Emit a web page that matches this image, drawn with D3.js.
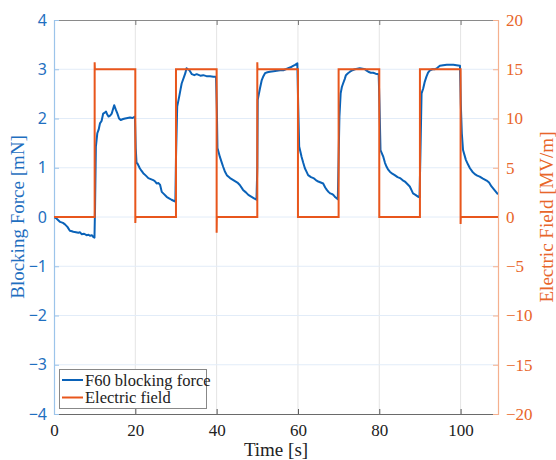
<!DOCTYPE html>
<html>
<head>
<meta charset="utf-8">
<script src="https://cdn.jsdelivr.net/npm/d3@7/dist/d3.min.js"></script>
<style>
  html, body { margin: 0; padding: 0; background: #fff; }
  svg { display: block; }
</style>
</head>
<body>
<svg id="chart" width="556" height="460"></svg>
<script>
// Time axis ticks and limits
const timeTicks = [0, 20, 40, 60, 80, 100];
const timeMax = 109.2;
// Left axis: blocking force [mN]
const forceTicks = [-4, -3, -2, -1, 0, 1, 2, 3, 4];
// Right axis: electric field [MV/m]
const fieldTicks = [-20, -15, -10, -5, 0, 5, 10, 15, 20];

// F60 blocking force samples
const forceTime = [
  0, 0.6, 1.5, 2.2, 2.7, 3.3, 3.9, 4.4, 4.75, 5.4, 6.0, 6.4, 6.8, 7.4, 8.0, 8.5, 8.85, 9.3, 9.7, 9.95,
  10.1, 10.3, 10.65, 11.0, 11.3, 11.7, 12.1, 12.5, 12.8, 13.1, 13.4, 13.8, 14.2, 14.8, 15.2, 15.6, 16.0, 16.4, 17.0, 17.5, 18.1, 18.7, 19.3, 19.9,
  20.1, 20.3, 20.5, 21.1, 21.5, 21.95, 22.6, 23.2, 23.8, 24.4, 24.9, 25.25, 25.7, 26.1, 26.5, 27.0, 27.7, 28.3, 28.9, 29.4, 29.85,
  30.0, 30.3, 30.8, 31.1, 31.4, 32.0, 32.3, 32.6, 32.9, 33.3, 33.9, 34.5, 35.1, 36.0, 36.7, 37.5, 38.4, 39.2, 39.85,
  40.05, 40.2, 40.8, 41.2, 41.6, 42.0, 42.5, 43.3, 43.9, 44.5, 45.1, 45.7, 46.5, 47.2, 47.8, 48.6, 49.2, 49.8,
  50.0, 50.1, 50.65, 51.1, 51.5, 51.9, 52.5, 53.1, 54.0, 54.8, 55.6, 56.4, 57.0, 57.6, 58.2, 58.8, 59.3, 59.85,
  60.05, 60.3, 60.9, 61.3, 61.7, 62.1, 62.5, 63.2, 63.8, 64.4, 65.0, 65.6, 66.2, 66.7, 67.1, 67.5, 67.9, 68.3, 68.7, 69.2, 69.8,
  70.0, 70.2, 70.5, 70.8, 71.1, 71.5, 71.8, 72.3, 72.8, 73.4, 74.0, 74.6, 75.2, 75.9, 76.5, 76.9, 77.3, 77.9, 78.5, 79.1, 79.85,
  80.05, 80.3, 81.0, 81.4, 81.8, 82.2, 82.6, 83.2, 83.8, 84.5, 85.1, 85.7, 86.3, 86.9, 87.5, 87.9, 88.3, 88.9, 89.6, 89.9,
  90.1, 90.4, 90.8, 91.2, 91.6, 92.0, 92.5, 93.1, 93.7, 94.3, 94.9, 95.7, 96.6, 97.4, 98.2, 99.0, 99.85,
  100.05, 100.3, 100.6, 101.3, 101.8, 102.3, 102.9, 103.5, 104.1, 104.7, 105.5, 106.4, 107.0, 107.6, 108.3, 108.9, 109.2
];
const forceValue = [
  0.00, -0.03, -0.10, -0.12, -0.15, -0.20, -0.28, -0.29, -0.30, -0.31, -0.32, -0.31, -0.35, -0.34, -0.37, -0.36, -0.38, -0.37, -0.41, -0.42,
  0.20, 1.43, 1.70, 1.78, 1.90, 1.95, 2.10, 2.12, 2.14, 2.08, 2.04, 2.06, 2.10, 2.27, 2.18, 2.10, 2.00, 1.97, 1.99, 2.00, 2.01, 2.02, 2.01, 2.04,
  1.40, 1.09, 1.09, 0.99, 0.94, 0.89, 0.84, 0.79, 0.77, 0.75, 0.72, 0.68, 0.69, 0.65, 0.51, 0.47, 0.41, 0.38, 0.35, 0.33, 0.31,
  1.20, 2.24, 2.45, 2.58, 2.71, 2.85, 2.92, 3.02, 3.00, 2.98, 2.90, 2.88, 2.90, 2.87, 2.88, 2.86, 2.86, 2.85, 2.85,
  2.20, 1.40, 1.22, 1.12, 1.02, 0.93, 0.85, 0.79, 0.76, 0.73, 0.70, 0.65, 0.55, 0.50, 0.45, 0.41, 0.38, 0.35,
  1.00, 2.38, 2.61, 2.78, 2.86, 2.92, 2.94, 2.95, 2.96, 2.97, 2.98, 2.98, 3.00, 3.02, 3.04, 3.07, 3.09, 3.12,
  2.30, 1.43, 1.22, 1.10, 0.99, 0.92, 0.85, 0.81, 0.79, 0.75, 0.72, 0.70, 0.68, 0.60, 0.55, 0.51, 0.48, 0.47, 0.45, 0.40, 0.36,
  1.20, 2.04, 2.51, 2.64, 2.71, 2.80, 2.88, 2.92, 2.95, 2.98, 3.00, 3.01, 3.02, 3.01, 3.00, 2.97, 2.95, 2.93, 2.93, 2.91, 2.90,
  2.30, 1.36, 1.22, 1.10, 1.02, 0.96, 0.92, 0.88, 0.85, 0.81, 0.79, 0.75, 0.72, 0.67, 0.62, 0.55, 0.48, 0.45, 0.41, 0.40,
  1.20, 2.51, 2.61, 2.75, 2.85, 2.93, 2.98, 3.00, 3.00, 3.03, 3.07, 3.08, 3.09, 3.09, 3.09, 3.08, 3.07,
  2.30, 1.70, 1.36, 1.16, 1.07, 0.99, 0.92, 0.87, 0.84, 0.82, 0.78, 0.74, 0.70, 0.62, 0.55, 0.49, 0.46
];

// Applied electric field (square wave)
const fieldTime = [
  0, 10, 10, 10.05, 20, 20, 20.05, 30, 30, 40, 40, 40.05, 50, 50, 50.05, 60, 60,
  70, 70, 80, 80, 90, 90, 100, 100, 100.05, 109.2
];
const fieldValue = [
  0, 0, 15.7, 15, 15, -0.6, 0, 0, 15, 15, -1.6, 0, 0, 15.7, 15, 15, 0,
  0, 15, 15, 0, 0, 15, 15, -0.7, 0, 0
];

const legendLabels = ["F60 blocking force", "Electric field"];

const blue = "#0a62b8";
const orange = "#e8561c";
const blueText = "#1f6fc0";
const orangeText = "#e8662a";
const serif = "'Liberation Serif', 'Times New Roman', serif";
const sans = "'Noto Sans', 'Open Sans', sans-serif";

const svg = d3.select("#chart");
const L = 54, R = 498, T = 20, B = 414;

const x = d3.scaleLinear().domain([0, timeMax]).range([L, R]);
const yF = d3.scaleLinear().domain([-4, 4]).range([B, T]);
const yE = d3.scaleLinear().domain([-20, 20]).range([B, T]);

// Grid lines
const grid = svg.append("g");
grid.selectAll("line.vg").data(timeTicks.filter(t => t > 0)).enter().append("line")
  .attr("x1", d => x(d)).attr("x2", d => x(d))
  .attr("y1", T).attr("y2", B)
  .attr("stroke", "#e4e4e4").attr("stroke-width", 1);
grid.selectAll("line.hg").data(forceTicks.filter(v => v > -4 && v < 4)).enter().append("line")
  .attr("x1", L).attr("x2", R)
  .attr("y1", d => yF(d)).attr("y2", d => yF(d))
  .attr("stroke", "#e2ecf8").attr("stroke-width", 1);

// Box: top and bottom lines
svg.append("line").attr("x1", L).attr("x2", R).attr("y1", T + 0.5).attr("y2", T + 0.5)
  .attr("stroke", "#8a8a8a").attr("stroke-width", 1);
svg.append("line").attr("x1", L).attr("x2", R).attr("y1", B + 0.5).attr("y2", B + 0.5)
  .attr("stroke", "#6a6a6a").attr("stroke-width", 1);

// Bottom axis with inward ticks
const xAxis = d3.axisBottom(x).tickValues(timeTicks).tickSize(-5).tickPadding(10).tickFormat(d3.format("d"));
const gx = svg.append("g").attr("transform", `translate(0,${B})`).call(xAxis);
gx.select(".domain").remove();
gx.selectAll(".tick line").attr("stroke", "#555");
gx.selectAll("text").attr("font-family", serif).attr("font-size", 17).attr("fill", "#222");

// Top ticks
const xTop = d3.axisTop(x).tickValues(timeTicks).tickSize(-5).tickFormat("");
const gxt = svg.append("g").attr("transform", `translate(0,${T})`).call(xTop);
gxt.select(".domain").remove();
gxt.selectAll(".tick line").attr("stroke", "#777");

// Left axis
const fmtMinus = d => d < 0 ? "\u2212" + Math.abs(d) : String(d);
const yAxisL = d3.axisLeft(yF).tickValues(forceTicks).tickSize(-5).tickPadding(7).tickFormat(fmtMinus);
const gl = svg.append("g").attr("transform", `translate(${L},0)`).call(yAxisL);
gl.select(".domain").attr("stroke", "#9cc4ea").attr("stroke-width", 1.2);
gl.selectAll(".tick line").attr("stroke", "#9cc4ea");
gl.selectAll("text").attr("font-family", sans).attr("font-size", 16).attr("fill", blueText);

// Right axis
const yAxisR = d3.axisRight(yE).tickValues(fieldTicks).tickSize(-5).tickPadding(8).tickFormat(fmtMinus);
const gr = svg.append("g").attr("transform", `translate(${R},0)`).call(yAxisR);
gr.select(".domain").attr("stroke", "#f5b08e").attr("stroke-width", 1.2);
gr.selectAll(".tick line").attr("stroke", "#f5b08e");
gr.selectAll("text").attr("font-family", serif).attr("font-size", 17).attr("fill", orangeText);

// Data lines
const clip = svg.append("clipPath").attr("id", "plotclip").append("rect")
  .attr("x", L).attr("y", T - 2).attr("width", R - L).attr("height", B - T + 4);
const plot = svg.append("g").attr("clip-path", "url(#plotclip)");

const fieldLine = d3.line().x(i => x(fieldTime[i])).y(i => yE(fieldValue[i]));
const forceLine = d3.line().x(i => x(forceTime[i])).y(i => yF(forceValue[i]));

plot.append("path").attr("d", forceLine(d3.range(forceTime.length)))
  .attr("fill", "none").attr("stroke", blue).attr("stroke-width", 2).attr("stroke-linejoin", "round");
plot.append("path").attr("d", fieldLine(d3.range(fieldTime.length)))
  .attr("fill", "none").attr("stroke", orange).attr("stroke-width", 2).attr("stroke-linejoin", "miter");

// Axis titles
svg.append("text").attr("transform", `translate(24,${(T + B) / 2}) rotate(-90)`)
  .attr("text-anchor", "middle").attr("font-family", serif).attr("font-size", 19)
  .attr("fill", blueText).text("Blocking Force [mN]");
svg.append("text").attr("transform", `translate(553,${(T + B) / 2}) rotate(-90)`)
  .attr("text-anchor", "middle").attr("font-family", serif).attr("font-size", 19)
  .attr("fill", orangeText).text("Electric Field [MV/m]");
svg.append("text").attr("x", (L + R) / 2).attr("y", 456)
  .attr("text-anchor", "middle").attr("font-family", serif).attr("font-size", 19)
  .attr("fill", "#222").text("Time [s]");

// Legend
const lg = svg.append("g");
lg.append("rect").attr("x", 59.5).attr("y", 369.5).attr("width", 147).attr("height", 39)
  .attr("fill", "#fff").attr("stroke", "#888").attr("stroke-width", 1);
[blue, orange].forEach((c, i) => {
  const yy = 380 + i * 17.5;
  lg.append("line").attr("x1", 62).attr("x2", 83).attr("y1", yy).attr("y2", yy)
    .attr("stroke", c).attr("stroke-width", 2);
  lg.append("text").attr("x", 85).attr("y", yy + 5.5)
    .attr("font-family", serif).attr("font-size", 16.5).attr("fill", "#222")
    .text(legendLabels[i]);
});
</script>
</body>
</html>
